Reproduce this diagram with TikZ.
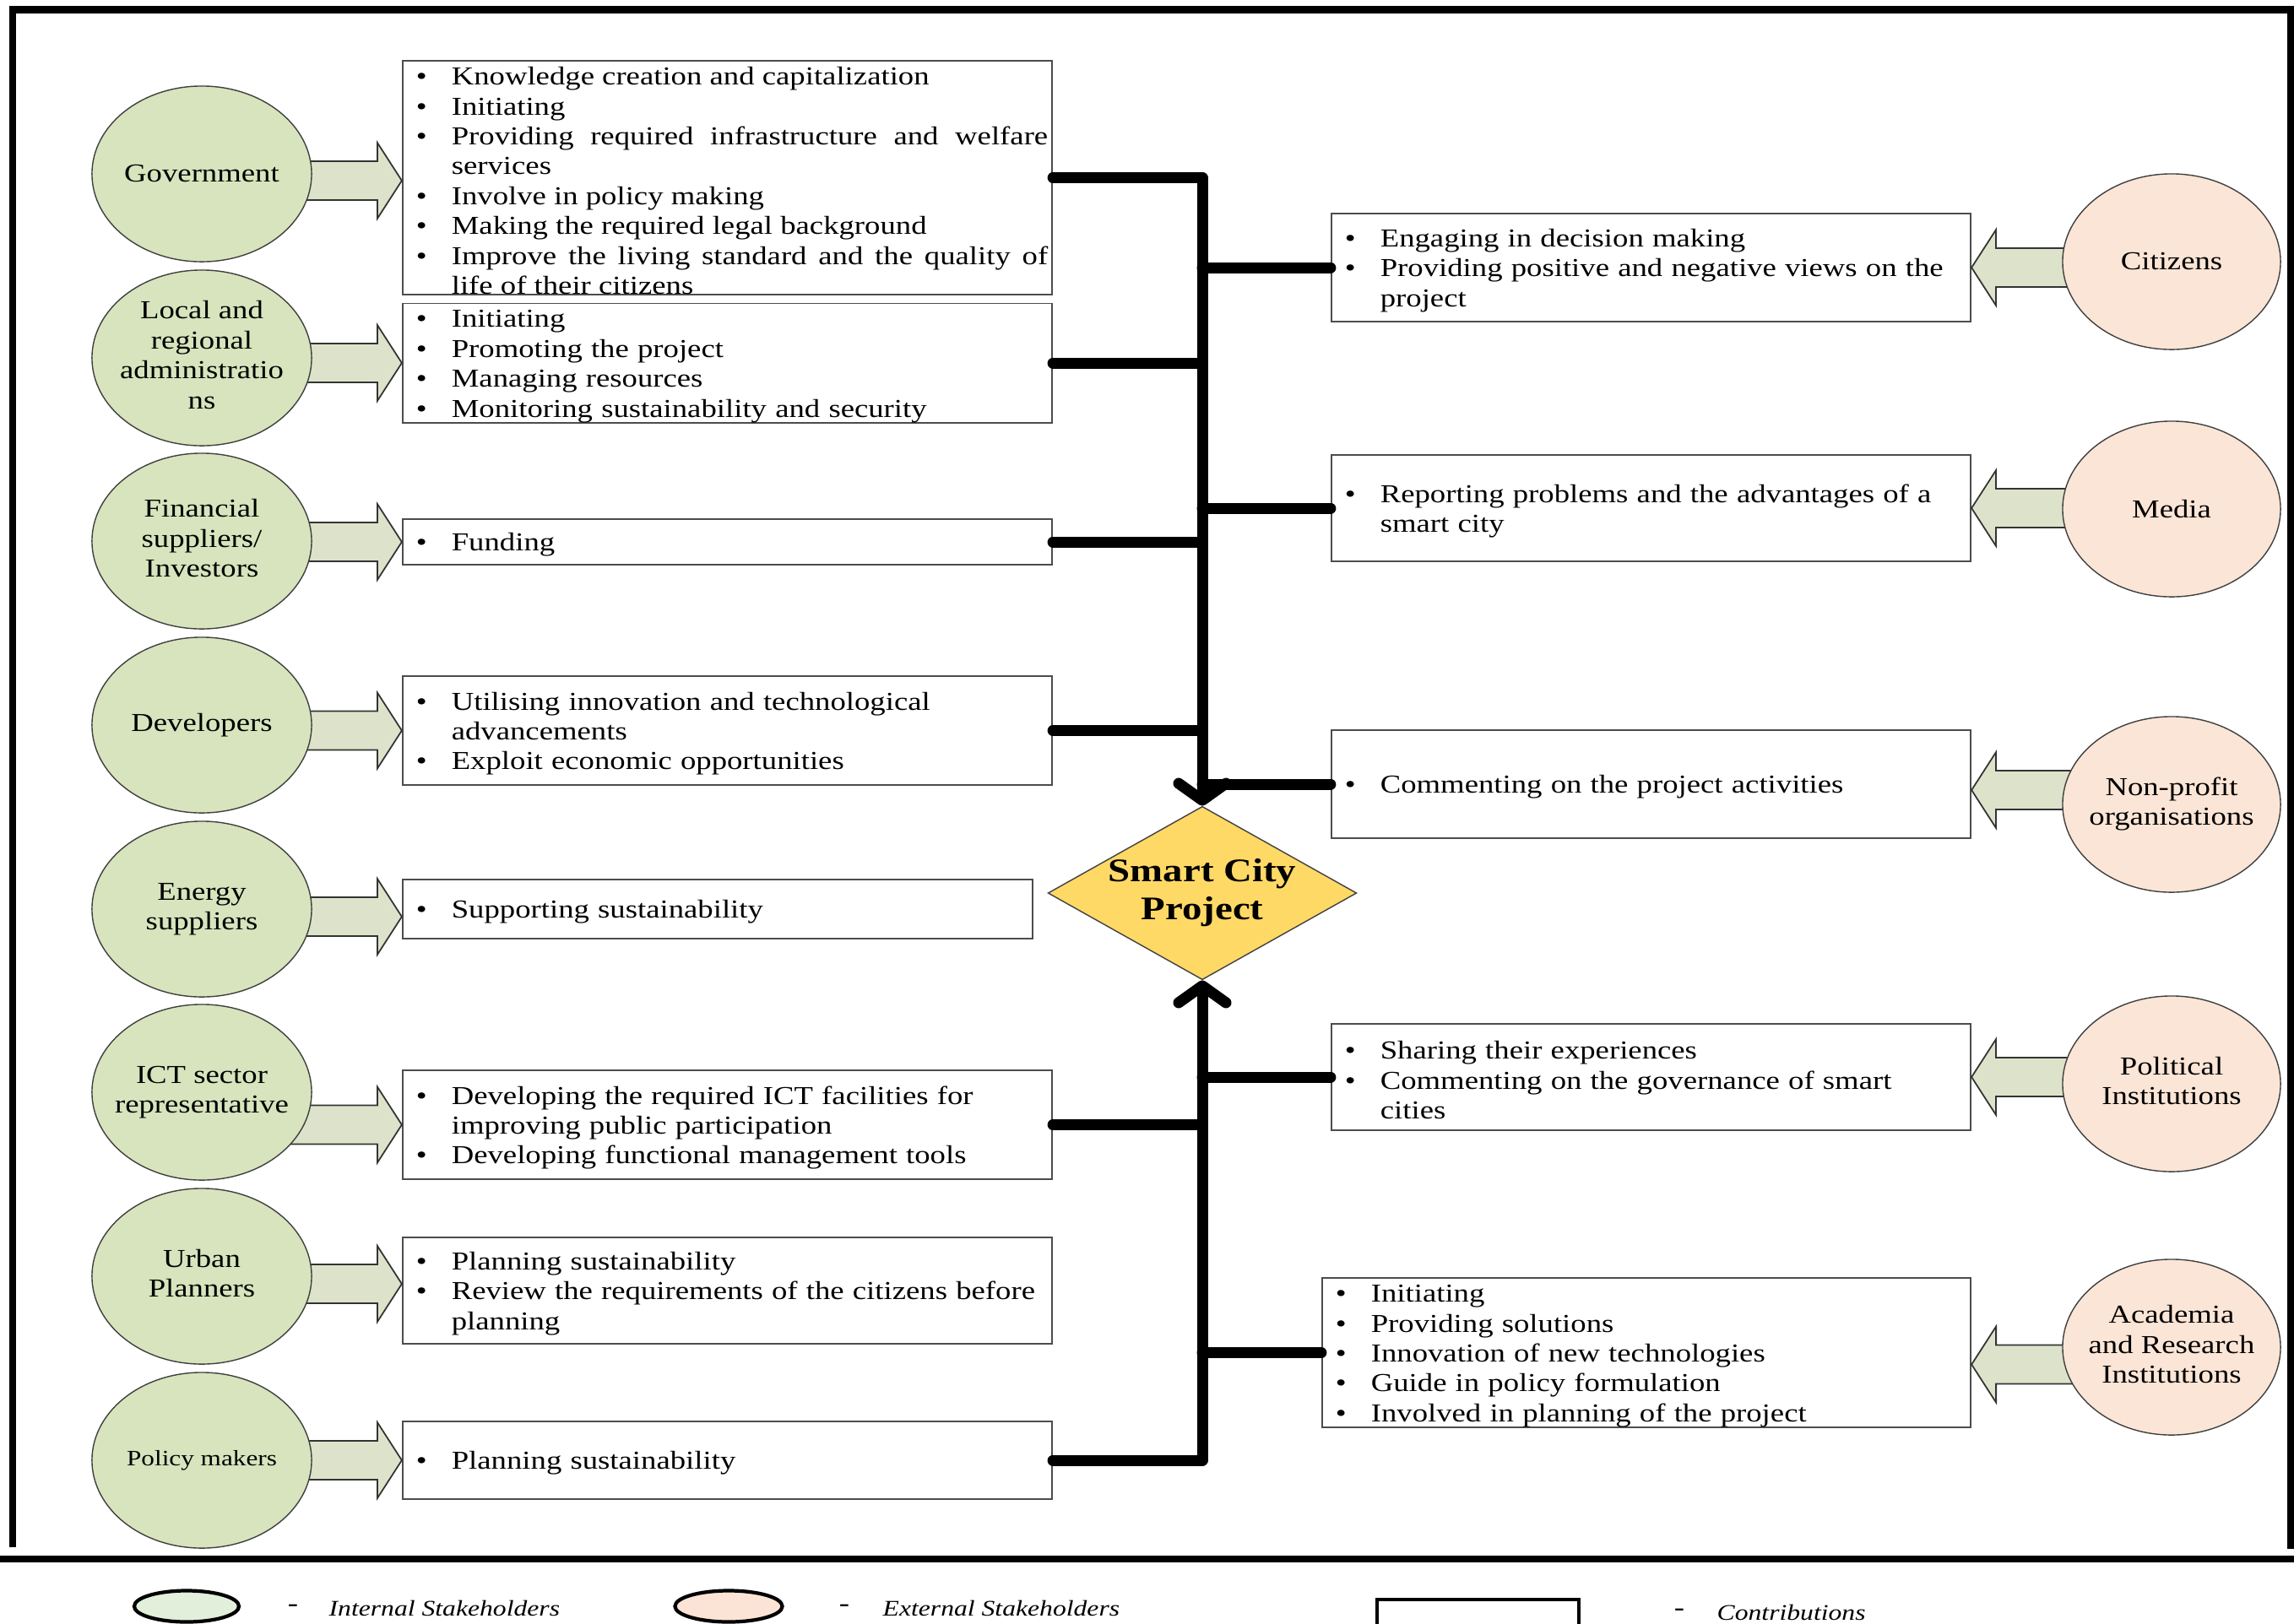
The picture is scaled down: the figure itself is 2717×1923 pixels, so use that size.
\documentclass[tikz,border=0pt]{standalone}
\usepackage{fontspec}
\setmainfont{Liberation Serif}[FakeStretch=1.2]
\usepackage{enumitem}
\usetikzlibrary{shapes.geometric,arrows.meta}

\definecolor{intgreen}{HTML}{D7E4BD}
\definecolor{extpeach}{HTML}{FBE5D6}
\definecolor{arrowgreen}{HTML}{DDE3CA}
\definecolor{projgold}{HTML}{FFD966}
\definecolor{leggreen}{HTML}{E2EFDA}
\definecolor{legpeach}{HTML}{FBE4D5}

\setlist[itemize]{label=\textbullet,nosep,leftmargin=0.53cm,labelsep=0.29cm}

% block arrow: tip point, direction (1 right, -1 left)
\newcommand{\stakearrow}[2]{%
  \filldraw[barrow] #1 -- ++({-29*(#2)},-45) -- ++(0,22) -- ++({-120*(#2)},0)
    -- ++(0,46) -- ++({120*(#2)},0) -- ++(0,22) -- cycle;}
% centred lines that do not widen the ellipse
\newcommand{\ctext}[1]{\makebox[0pt]{\begin{tabular}{@{}c@{}}#1\end{tabular}}}

\begin{document}
\begin{tikzpicture}[x=0.01cm,y=-0.01cm,font=\fontsize{8.7}{10.07}\selectfont,
  internal/.style={ellipse,draw=black!75,fill=intgreen,minimum width=2.6cm,
    minimum height=2.08cm,inner sep=0pt},
  external/.style={ellipse,draw=black!75,fill=extpeach,minimum width=2.58cm,
    minimum height=2.08cm,inner sep=0pt},
  contrib/.style={draw=black!70,line width=0.5pt,inner xsep=0.05cm,inner ysep=0pt,align=left,
    execute at begin node={\vspace*{-0.07cm}}},
  leftbox/.style={contrib,text width=7.59cm},
  rightbox/.style={contrib,text width=7.47cm},
  barrow/.style={draw=black!80,fill=arrowgreen,line width=0.5pt},
  bus/.style={line width=0.13cm,line cap=round,line join=round},
  legtext/.style={anchor=west,inner sep=0pt,font=\fontsize{7.5}{9}\selectfont\itshape}]
  \useasboundingbox (0,0) rectangle (2717,1923);
  % frame
  \draw[line width=0.09cm] (11,11.5) -- (2717,11.5);
  \draw[line width=0.08cm] (15,7) -- (15,1833);
  \draw[line width=0.08cm] (2713,7) -- (2713,1835);
  \draw[line width=0.08cm] (0,1847) -- (2717,1847);

  % contributions, internal side
  \node[leftbox,align=justify,minimum height=2.75cm] (gov-box) at (861.5,210.5) {\begin{itemize}
    \item Knowledge creation and capitalization
    \item Initiating
    \item Providing required infrastructure and welfare services
    \item Involve in policy making
    \item Making the required legal background
    \item Improve the living standard and the quality of life of their citizens
  \end{itemize}};
  \node[leftbox,minimum height=1.40cm] (loc-box) at (861.5,430) {\begin{itemize}
    \item Initiating
    \item Promoting the project
    \item Managing resources
    \item Monitoring sustainability and security
  \end{itemize}};
  \node[leftbox,minimum height=0.54cm] (fin-box) at (861.5,642) {\begin{itemize}
    \item Funding
  \end{itemize}};
  \node[leftbox,minimum height=1.29cm] (dev-box) at (861.5,865.5) {\begin{itemize}
    \item Utilising innovation and technological\newline advancements
    \item Exploit economic opportunities
  \end{itemize}};
  \node[contrib,text width=7.36cm,minimum height=0.70cm] (ene-box) at (850,1077) {\begin{itemize}
    \item Supporting sustainability
  \end{itemize}};
  \node[leftbox,minimum height=1.29cm] (ict-box) at (861.5,1332.5) {\begin{itemize}
    \item Developing the required ICT facilities for\newline improving public participation
    \item Developing functional management tools
  \end{itemize}};
  \node[leftbox,minimum height=1.26cm] (urb-box) at (861.5,1529) {\begin{itemize}
    \item Planning sustainability
    \item Review the requirements of the citizens before\newline planning
  \end{itemize}};
  \node[leftbox,minimum height=0.92cm] (pol-box) at (861.5,1730) {\begin{itemize}
    \item Planning sustainability
  \end{itemize}};

  % contributions, external side
  \node[rightbox,minimum height=1.28cm] (cit-box) at (1955.5,317) {\begin{itemize}
    \item Engaging in decision making
    \item Providing positive and negative views on the\newline project
  \end{itemize}};
  \node[rightbox,minimum height=1.26cm] (med-box) at (1955.5,602) {\begin{itemize}
    \item Reporting problems and the advantages of a\newline smart city
  \end{itemize}};
  \node[rightbox,minimum height=1.28cm] (npo-box) at (1955.5,929) {\begin{itemize}
    \item Commenting on the project activities
  \end{itemize}};
  \node[rightbox,minimum height=1.26cm] (pin-box) at (1955.5,1276) {\begin{itemize}
    \item Sharing their experiences
    \item Commenting on the governance of smart\newline cities
  \end{itemize}};
  \node[contrib,text width=7.58cm,minimum height=1.77cm] (aca-box) at (1950,1602.5) {\begin{itemize}
    \item Initiating
    \item Providing solutions
    \item Innovation of new technologies
    \item Guide in policy formulation
    \item Involved in planning of the project
  \end{itemize}};

  % project
  \node[diamond,draw=black!75,fill=projgold,minimum width=3.56cm,minimum height=2.0cm,
    inner sep=0pt,aspect=1.78,align=center,
    font=\fontsize{11.1}{12.8}\selectfont\bfseries] (proj) at (1424,1058) {Smart City\\Project};

  % links to the project
  \draw[bus,-{Straight Barb[length=0.2cm,width=0.56cm,round]}] (gov-box.east) -| (proj.north);
  \draw[bus,-{Straight Barb[length=0.2cm,width=0.56cm,round]}] (pol-box.east) -| (proj.south);
  \draw[bus] (loc-box.east) -- (loc-box.east -| proj.center);
  \draw[bus] (fin-box.east) -- (fin-box.east -| proj.center);
  \draw[bus] (dev-box.east) -- (dev-box.east -| proj.center);
  \draw[bus] (ict-box.east) -- (ict-box.east -| proj.center);
  \draw[bus] (cit-box.west) -- (cit-box.west -| proj.center);
  \draw[bus] (med-box.west) -- (med-box.west -| proj.center);
  \draw[bus] (npo-box.west) -- (npo-box.west -| proj.center);
  \draw[bus] (pin-box.west) -- (pin-box.west -| proj.center);
  \draw[bus] (aca-box.west) -- (aca-box.west -| proj.center);

  % block arrows
  \stakearrow{([yshift=-0.035cm]gov-box.west)}{1}
  \stakearrow{(loc-box.west)}{1}
  \stakearrow{(fin-box.west)}{1}
  \stakearrow{(dev-box.west)}{1}
  \stakearrow{([yshift=-0.09cm]ene-box.west)}{1}
  \stakearrow{(ict-box.west)}{1}
  \stakearrow{([yshift=0.08cm]urb-box.west)}{1}
  \stakearrow{(pol-box.west)}{1}
  \stakearrow{(cit-box.east)}{-1}
  \stakearrow{(med-box.east)}{-1}
  \stakearrow{([yshift=-0.07cm]npo-box.east)}{-1}
  \stakearrow{(pin-box.east)}{-1}
  \stakearrow{([yshift=-0.14cm]aca-box.east)}{-1}

  % stakeholders
  \node[internal] (gov) at (239,206) {Government};
  \node[internal] (loc) at (239,424) {\ctext{Local and\\regional\\administratio\\ns}};
  \node[internal] (fin) at (239,641) {\ctext{Financial\\suppliers/\\Investors}};
  \node[internal] (dev) at (239,859) {Developers};
  \node[internal] (ene) at (239,1077) {\ctext{Energy\\suppliers}};
  \node[internal] (ict) at (239,1294) {\ctext{ICT sector\\representative}};
  \node[internal] (urb) at (239,1512) {\ctext{Urban\\Planners}};
  \node[internal,font=\fontsize{7.4}{8.5}\selectfont] (pol) at (239,1730) {Policy makers};
  \node[external] (cit) at (2572,310) {Citizens};
  \node[external] (med) at (2572,603) {Media};
  \node[external] (npo) at (2572,953) {\ctext{Non-profit\\organisations}};
  \node[external] (pin) at (2572,1284) {\ctext{Political\\Institutions}};
  \node[external] (aca) at (2572,1596) {\ctext{Academia\\and Research\\Institutions}};

  % legend
  \node[ellipse,draw,line width=1.2pt,fill=leggreen,minimum width=1.24cm,minimum height=0.37cm,
    inner sep=0pt] (leg-int) at (221,1903) {};
  \node[inner sep=0pt] (leg-int-dash) at (347,1905) {-};
  \node[legtext] (leg-int-txt) at (389,1905) {Internal Stakeholders};
  \node[ellipse,draw,line width=1.2pt,fill=legpeach,minimum width=1.27cm,minimum height=0.37cm,
    inner sep=0pt] (leg-ext) at (863,1903) {};
  \node[inner sep=0pt] (leg-ext-dash) at (1000,1905) {-};
  \node[legtext] (leg-ext-txt) at (1045,1905) {External Stakeholders};
  \node[draw,line width=1pt,minimum width=2.39cm,minimum height=0.6cm,anchor=north west,
    inner sep=0pt] (leg-box) at (1629,1893) {};
  \node[inner sep=0pt] (leg-box-dash) at (1989,1910) {-};
  \node[legtext] (leg-box-txt) at (2033,1910) {Contributions};
\end{tikzpicture}
\end{document}
